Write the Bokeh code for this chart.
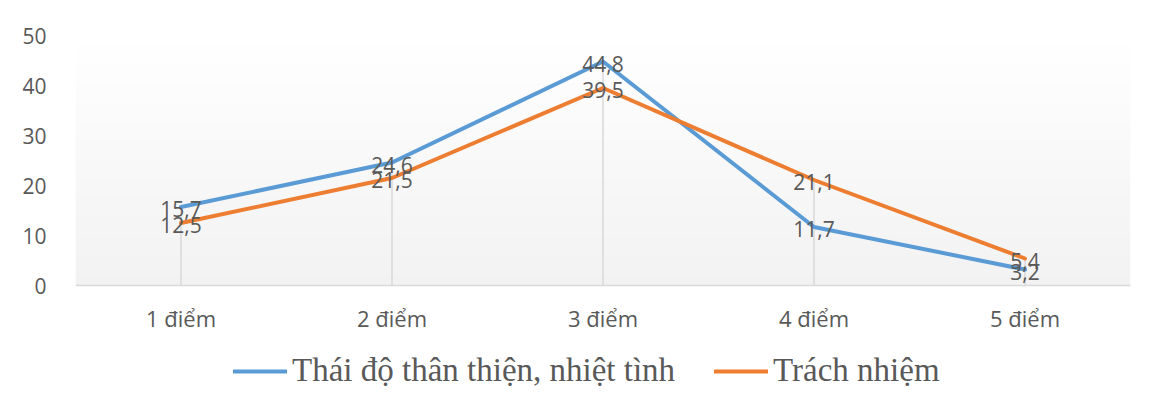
import numpy as np
from bokeh.plotting import figure
from bokeh.models import Range1d, FactorRange, FixedTicker, Legend, LegendItem, ColumnDataSource
from bokeh.core.properties import value
from bokeh.embed import file_html
from bokeh.resources import INLINE

categories = ["1 điểm", "2 điểm", "3 điểm", "4 điểm", "5 điểm"]
series_names = ["Thái độ thân thiện, nhiệt tình", "Trách nhiệm"]
thai_do = [15.7, 24.6, 44.8, 11.7, 3.2]
trach_nhiem = [12.5, 21.5, 39.5, 21.1, 5.4]
y_ticks = [0, 10, 20, 30, 40, 50]

colors = ["#5b9bd5", "#ed7d31"]
TXT = "#595959"
FONT = "Open Sans"

# frame extends below the axis to host the legend; the x axis sits at y = 0
p = figure(frame_width=1055, frame_height=375, x_range=FactorRange(*categories), y_range=Range1d(-25, 50),
           output_backend="svg", toolbar_location=None,
           min_border_left=75, min_border_right=20, min_border_top=35, min_border_bottom=0)
p.background_fill_color = "white"
p.border_fill_color = "white"
p.outline_line_color = None
p.xgrid.grid_line_color = None
p.ygrid.grid_line_color = None

# plot-area gradient (white at top to light gray at bottom)
rows = 250
img = np.empty((rows, 1), dtype=np.uint32)
view = img.view(dtype=np.uint8).reshape((rows, 1, 4))
for r in range(rows):
    g = int(round(242 + (255 - 242) * r / (rows - 1)))
    view[r, 0, :] = [g, g, g, 255]
p.image_rgba(image=[img], x=0, y=0, dw=len(categories), dh=50)

# drop lines
drop_top = [max(a, b) for a, b in zip(thai_do, trach_nhiem)]
p.segment(x0=categories, y0=[0] * len(categories), x1=categories, y1=drop_top,
          line_color="#d9d9d9", line_width=1.5)

renderers = []
for vals, c in zip([thai_do, trach_nhiem], colors):
    r = p.line(categories, vals, line_color=c, line_width=4, line_join="round", line_cap="round")
    renderers.append(r)

for vals in [thai_do, trach_nhiem]:
    src = ColumnDataSource(dict(x=categories, y=vals, t=[f"{v:.1f}".replace(".", ",") for v in vals]))
    p.text(x="x", y="y", text="t", source=src, text_align="center", text_baseline="middle",
           y_offset=2, text_font=value(FONT), text_font_size="21px", text_color=TXT)

p.yaxis.ticker = FixedTicker(ticks=y_ticks)
p.yaxis.axis_line_color = None
p.yaxis.major_tick_line_color = None
p.yaxis.minor_tick_line_color = None
p.yaxis.major_label_standoff = 23
p.yaxis.major_label_text_font = FONT
p.yaxis.major_label_text_font_size = "21px"
p.yaxis.major_label_text_color = TXT

p.xaxis.fixed_location = 0
p.xaxis.axis_line_color = "#d9d9d9"
p.xaxis.axis_line_width = 1.5
p.xaxis.major_tick_line_color = None
p.xaxis.major_tick_out = 0
p.xaxis.major_label_standoff = 17
p.xaxis.major_label_text_font = FONT
p.xaxis.major_label_text_font_size = "22px"
p.xaxis.major_label_text_color = TXT

legend = Legend(items=[LegendItem(label=n, renderers=[r]) for n, r in zip(series_names, renderers)],
                orientation="horizontal", location=(158, 21),
                label_text_font="Liberation Serif", label_text_font_size="33px", label_text_color=TXT,
                glyph_width=54, glyph_height=36, label_height=36, label_standoff=5, spacing=39,
                padding=0, margin=0, border_line_color=None, background_fill_alpha=0)
p.add_layout(legend, "center")

open("out.html", "w").write(file_html(p, INLINE))
